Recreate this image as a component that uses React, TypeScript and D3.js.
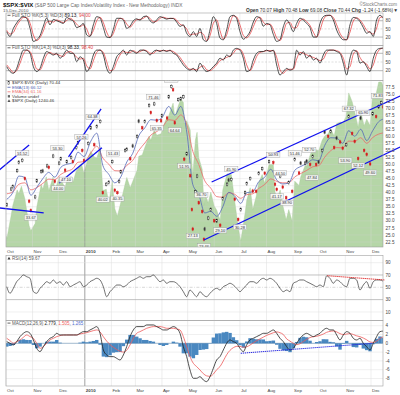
import React from "react";
import * as d3 from "d3";

// ---------------- DATA ----------------
const monthTickDates = ["2009-10-01","2009-11-01","2009-12-01","2010-01-01","2010-02-01","2010-03-01","2010-04-01","2010-05-01","2010-06-01","2010-07-01","2010-08-01","2010-09-01","2010-10-01","2010-11-01","2010-12-01"];
const monthTickLabels = ["Oct","Nov","Dec","2010","Feb","Mar","Apr","May","Jun","Jul","Aug","Sep","Oct","Nov","Dec"];

const weekDates = ["2009-10-02","2009-10-09","2009-10-16","2009-10-23","2009-10-30","2009-11-06","2009-11-13","2009-11-20","2009-11-27","2009-12-04","2009-12-11","2009-12-18","2009-12-24","2009-12-31",
"2010-01-08","2010-01-15","2010-01-22","2010-01-29","2010-02-05","2010-02-12","2010-02-19","2010-02-26","2010-03-05","2010-03-12","2010-03-19","2010-03-26","2010-04-01","2010-04-09","2010-04-16","2010-04-23","2010-04-30",
"2010-05-07","2010-05-14","2010-05-21","2010-05-28","2010-06-04","2010-06-11","2010-06-18","2010-06-25","2010-07-02","2010-07-09","2010-07-16","2010-07-23","2010-07-30",
"2010-08-06","2010-08-13","2010-08-20","2010-08-27","2010-09-03","2010-09-10","2010-09-17","2010-09-24","2010-10-01","2010-10-08","2010-10-15","2010-10-22","2010-10-29",
"2010-11-05","2010-11-12","2010-11-19","2010-11-26","2010-12-03","2010-12-10","2010-12-15"];
const ema13Values = [37.7,40.1,45.9,45.4,39.1,41.9,45.0,47.2,45.5,49.0,50.1,50.6,54.4,52.8,
58.3,61.1,49.7,46.5,43.5,45.6,50.9,54.0,60.2,63.0,65.9,65.7,66.6,70.6,67.5,70.6,61.5,
42.9,39.4,32.8,33.4,31.6,35.0,40.1,38.8,36.2,40.0,40.3,43.9,45.5,
48.3,44.5,43.1,43.4,47.9,49.3,50.3,51.7,51.3,56.8,59.5,59.4,57.5,
62.0,60.0,62.5,58.5,62.0,65.2,66.1];
const ema34Values = [39.6,40.3,43.0,43.5,41.0,41.8,43.3,44.8,44.6,46.5,47.6,48.5,50.8,51.0,
54.1,56.5,52.3,50.1,47.8,47.7,49.7,51.5,55.0,57.6,60.4,61.7,63.1,65.9,65.6,67.6,64.1,
54.7,50.0,44.2,41.6,38.6,38.4,40.0,39.4,38.0,39.3,39.6,41.5,42.9,
44.9,44.0,43.5,43.5,45.6,46.8,47.9,49.2,49.6,52.6,54.9,56.0,55.9,
58.3,58.2,59.5,57.5,59.6,60.8,61.2];

const ratioDates = ["2009-10-02","2009-10-07","2009-10-09","2009-10-14","2009-10-16","2009-10-20","2009-10-23","2009-10-28","2009-10-30",
"2009-11-04","2009-11-06","2009-11-11","2009-11-13","2009-11-18","2009-11-20","2009-11-25","2009-11-27",
"2009-12-02","2009-12-04","2009-12-09","2009-12-11","2009-12-16","2009-12-18","2009-12-22","2009-12-24","2009-12-29","2009-12-31",
"2010-01-05","2010-01-08","2010-01-12","2010-01-15","2010-01-19","2010-01-22","2010-01-26","2010-01-29",
"2010-02-02","2010-02-05","2010-02-08","2010-02-10","2010-02-12","2010-02-17","2010-02-19","2010-02-23","2010-02-26",
"2010-03-03","2010-03-05","2010-03-09","2010-03-12","2010-03-17","2010-03-19","2010-03-23","2010-03-26","2010-03-31",
"2010-04-01","2010-04-07","2010-04-09","2010-04-12","2010-04-14","2010-04-16","2010-04-20","2010-04-23","2010-04-26","2010-04-27","2010-04-30",
"2010-05-04","2010-05-06","2010-05-07","2010-05-10","2010-05-12","2010-05-14","2010-05-18","2010-05-20","2010-05-21","2010-05-25","2010-05-28",
"2010-06-01","2010-06-04","2010-06-08","2010-06-11","2010-06-16","2010-06-18","2010-06-21","2010-06-25","2010-06-29",
"2010-07-02","2010-07-07","2010-07-09","2010-07-13","2010-07-16","2010-07-20","2010-07-23","2010-07-27","2010-07-30",
"2010-08-04","2010-08-09","2010-08-11","2010-08-13","2010-08-17","2010-08-20","2010-08-24","2010-08-27","2010-08-31",
"2010-09-03","2010-09-08","2010-09-10","2010-09-15","2010-09-17","2010-09-21","2010-09-24","2010-09-28",
"2010-10-01","2010-10-05","2010-10-08","2010-10-12","2010-10-15","2010-10-19","2010-10-22","2010-10-26","2010-10-29",
"2010-11-02","2010-11-05","2010-11-09","2010-11-12","2010-11-16","2010-11-19","2010-11-23","2010-11-26","2010-11-30",
"2010-12-03","2010-12-07","2010-12-10","2010-12-13","2010-12-15"];
const ratioClose = [35.7,41.3,42.2,47.8,50.8,51.5,45.0,37.0,33.7,
38.5,44.2,47.5,47.7,49.5,49.0,53.0,44.0,
50.5,52.0,48.0,51.0,52.5,51.0,56.0,57.7,55.0,51.4,
57.5,63.0,57.0,63.5,65.3,40.0,43.0,43.7,
51.0,40.9,40.0,44.0,47.4,55.0,55.4,52.0,56.6,
60.0,65.4,63.0,65.3,71.0,68.4,71.5,65.6,65.5,
67.3,66.5,74.0,77.66,76.5,64.8,73.0,73.3,74.0,51.9,53.8,
46.0,34.0,27.1,40.3,45.9,36.4,33.3,23.46,27.1,31.0,34.0,
30.0,30.0,28.45,37.9,43.0,44.5,44.7,37.7,30.5,
34.0,40.0,43.2,45.0,40.6,40.5,46.9,48.5,46.9,
51.0,50.7,43.0,41.2,45.9,42.0,38.2,43.6,40.5,
51.8,47.0,50.5,50.5,51.2,50.0,52.9,50.0,
50.9,55.0,61.5,60.0,61.8,56.0,59.4,58.0,55.8,
57.0,67.1,61.0,58.2,52.1,66.5,55.0,53.6,50.2,
68.0,67.0,70.5,71.9,70.44];

const spxDates = ["2009-10-01","2009-10-02","2009-10-07","2009-10-09","2009-10-14","2009-10-16","2009-10-19","2009-10-23","2009-10-28","2009-10-30",
"2009-11-04","2009-11-06","2009-11-11","2009-11-13","2009-11-17","2009-11-20","2009-11-25","2009-11-27",
"2009-12-02","2009-12-04","2009-12-09","2009-12-11","2009-12-16","2009-12-18","2009-12-22","2009-12-28","2009-12-31",
"2010-01-05","2010-01-08","2010-01-12","2010-01-15","2010-01-19","2010-01-22","2010-01-26","2010-01-29",
"2010-02-02","2010-02-05","2010-02-08","2010-02-12","2010-02-17","2010-02-19","2010-02-23","2010-02-26",
"2010-03-03","2010-03-05","2010-03-09","2010-03-12","2010-03-17","2010-03-19","2010-03-23","2010-03-26","2010-03-31",
"2010-04-05","2010-04-09","2010-04-14","2010-04-16","2010-04-20","2010-04-23","2010-04-26","2010-04-27","2010-04-30",
"2010-05-04","2010-05-06","2010-05-07","2010-05-10","2010-05-12","2010-05-14","2010-05-18","2010-05-20","2010-05-21","2010-05-25","2010-05-28",
"2010-06-01","2010-06-04","2010-06-08","2010-06-11","2010-06-16","2010-06-21","2010-06-25","2010-06-29",
"2010-07-02","2010-07-07","2010-07-09","2010-07-13","2010-07-16","2010-07-20","2010-07-23","2010-07-27","2010-07-30",
"2010-08-04","2010-08-09","2010-08-11","2010-08-13","2010-08-17","2010-08-20","2010-08-24","2010-08-27","2010-08-31",
"2010-09-03","2010-09-08","2010-09-10","2010-09-15","2010-09-17","2010-09-21","2010-09-24","2010-09-28",
"2010-10-01","2010-10-05","2010-10-08","2010-10-12","2010-10-15","2010-10-19","2010-10-22","2010-10-26","2010-10-29",
"2010-11-02","2010-11-05","2010-11-09","2010-11-12","2010-11-16","2010-11-19","2010-11-23","2010-11-26","2010-11-30",
"2010-12-03","2010-12-07","2010-12-10","2010-12-13","2010-12-15"];
const spxClose = [1029,1025,1057,1071,1092,1087,1097,1080,1043,1036,
1046,1069,1099,1093,1110,1091,1110,1091,
1109,1106,1095,1106,1110,1102,1118,1128,1115,
1137,1145,1137,1136,1150,1091,1093,1074,
1104,1066,1056,1075,1100,1109,1095,1104,
1119,1138,1140,1150,1166,1160,1174,1167,1169,
1187,1194,1211,1192,1207,1217,1212,1183,1187,
1174,1128,1111,1160,1171,1136,1120,1071,1088,1074,1089,
1070,1064,1050,1092,1114,1113,1076,1041,
1022,1060,1078,1095,1065,1083,1102,1113,1101,
1127,1127,1089,1079,1092,1071,1051,1065,1049,
1104,1098,1110,1125,1125,1140,1148,1147,
1146,1160,1166,1169,1176,1166,1183,1185,1183,
1193,1225,1213,1199,1178,1199,1180,1189,1180,
1224,1224,1240,1240,1235];

// oscillators: evenly spaced samples, Oct 1 2009 -> Dec 15 2010
const sto5K = [40,22,52,72,88,95,89,52,4,10,25,60,90,65,85,80,75,70,92,85,78,55,60,70,28,22,65,95,90,55,20,18,48,89,89,83,52,60,80,87,82,95,97,80,72,83,95,91,86,89,88,75,59,65,34,22,40,22,52,
10,4,46,95,70,16,10,46,95,100,88,40,12,22,40,75,95,90,60,70,65,30,4,10,58,83,65,40,70,89,83,70,55,20,20,70,95,100,100,83,46,22,10,10,65,92,89,77,55,34,40,22,83,100,89];
const sto5D = [45,31,37,62,80,92,92,71,28,7,18,43,75,78,75,83,78,73,81,89,82,67,58,65,49,25,44,80,93,73,38,19,33,69,89,86,68,56,70,84,85,89,96,89,76,78,89,93,89,88,89,82,67,62,50,28,31,31,37,
31,7,25,71,83,43,13,28,71,98,94,64,26,17,31,58,85,93,75,65,68,48,17,7,34,71,74,53,55,80,86,77,63,38,20,45,83,98,100,92,65,34,16,10,38,79,91,83,66,45,37,31,53,92,94];
const sto14K = [34,17,11,28,63,91,91,80,34,17,28,63,86,80,74,80,63,74,91,80,80,51,68,57,17,34,74,91,91,74,28,11,34,68,80,91,74,91,86,80,91,91,86,74,86,91,86,91,86,91,80,74,57,40,28,22,28,17,46,
28,17,22,34,46,63,57,74,68,91,97,91,63,17,22,57,80,86,86,91,86,91,40,5,17,28,22,28,91,74,86,63,74,57,63,46,74,91,91,91,86,80,46,5,63,91,86,46,51,34,17,63,91,97,98];
const sto14D = [40,26,14,20,46,77,91,86,57,26,23,46,75,83,77,77,72,69,83,86,80,66,60,63,37,26,54,83,91,83,51,20,23,51,74,86,83,83,89,83,86,91,89,80,80,89,89,89,89,89,86,77,66,49,34,25,25,23,32,
37,23,20,28,40,55,60,66,71,80,94,94,77,40,20,40,69,83,86,89,89,89,66,23,11,23,25,25,60,83,80,75,69,66,60,55,60,83,91,91,89,83,63,26,34,77,89,66,49,43,26,40,77,94,98];
const rsi14 = [51.0,40.3,48.4,59.1,64.6,70.0,67.2,64.6,42.9,40.3,48.4,53.7,59.1,56.5,61.9,56.5,59.1,53.7,59.1,51.0,53.7,56.5,59.1,51.0,53.7,59.1,61.9,64.6,61.9,51.0,34.7,42.9,48.4,53.7,53.7,51.0,53.7,59.1,61.9,64.6,67.2,64.6,67.2,67.2,70.0,64.6,59.1,61.9,56.5,59.1,59.1,56.5,51.0,42.9,34.7,45.6,40.3,34.7,42.9,
37.5,34.7,40.3,45.6,48.4,45.6,51.0,53.7,56.5,53.7,48.4,42.9,48.4,53.7,59.1,59.1,56.5,61.9,64.6,61.9,64.6,61.9,56.5,48.4,42.9,45.6,42.9,56.5,59.1,61.9,61.9,59.1,56.5,53.7,51.0,53.7,51.0,68.5,64.6,56.5,61.9,59.1,53.7,51.0,64.6,64.6,61.9,45.6,53.7,59.1,48.4,59.1,61.9,61.9,59.7];
const macdLine = [0.38,0,-0.38,0.38,1.52,2.27,2.65,2.27,0.76,-1.14,-1.89,-0.76,0.38,1.14,1.52,2.27,1.89,1.89,1.89,1.89,1.89,1.89,2.27,2.65,2.65,3.03,3.41,3.79,2.27,-1.52,-2.65,-3.03,-3.03,-3.41,-3.79,-2.65,-0.76,1.52,3.03,3.79,3.79,3.79,4.17,4.17,4.17,3.79,3.41,3.03,3.03,3.41,3.79,3.41,2.27,-0.76,-3.03,-6.06,-7.95,-7.95,-7.58,
-8.33,-8.71,-7.58,-5.68,-3.79,-3.03,-1.52,0,0.76,0.38,0,-1.14,-1.89,-0.38,0.76,1.14,1.52,1.89,2.27,2.27,2.65,3.03,2.27,1.14,0.38,-0.76,-1.52,-1.14,0,1.14,1.89,2.27,1.89,1.52,1.89,2.27,3.03,3.41,3.03,3.03,1.89,0.76,1.89,2.65,2.27,1.14,0.76,1.14,0,-0.76,-1.52,0,1.52,2.65,2.779];
const macdSignal = [1.14,0.61,0,0.38,0.76,1.36,1.89,1.52,1.14,0,-1.14,-0.76,0,0.76,1.14,1.52,1.74,1.89,1.89,1.89,1.89,1.89,2.12,2.27,2.42,2.65,2.88,3.03,2.6,1.5,0.5,-0.3,-0.9,-1.4,-1.8,-2.0,-1.6,-0.38,1.14,2.27,2.65,3.03,3.41,3.64,3.79,3.79,3.79,3.64,3.41,3.41,3.41,3.26,3.03,1.52,-0.76,-3.03,-4.55,-5.30,-6.06,
-6.9,-7.4,-7.5,-7.0,-6.0,-5.3,-4.0,-2.6,-1.6,-1.0,-0.7,-0.7,-0.9,-0.8,-0.4,0.1,0.6,1.0,1.4,1.8,2.1,2.4,2.6,2.4,2.0,1.0,0.5,0,-0.3,-0.1,0.4,0.9,1.3,1.5,1.6,1.8,2.1,2.5,2.7,2.8,2.6,2.2,2.0,2.1,2.2,2.0,1.7,1.5,1.2,0.8,0.3,0.2,0.5,1.1,1.505];

// annotations on the main panel (date, value, 1 = above / -1 = below)
const annDates = ["2009-10-20","2009-10-30","2009-11-30","2009-12-01","2009-12-10","2009-12-28","2010-01-10","2010-01-22","2010-02-03","2010-02-08","2010-03-22","2010-03-26","2010-04-12","2010-04-16","2010-04-27","2010-05-07","2010-05-17","2010-05-20","2010-06-08","2010-06-21","2010-07-01","2010-08-09","2010-08-13","2010-08-17","2010-08-25","2010-09-03","2010-09-20","2010-09-23","2010-11-01","2010-11-05","2010-11-16","2010-11-22","2010-11-30","2010-12-09"];
const annValues = [51.52,33.67,53.30,44.00,47.10,57.26,64.38,40.02,51.43,40.35,71.46,65.35,77.66,64.64,51.95,27.13,36.70,23.46,29.10,45.90,30.28,50.93,41.17,44.50,38.90,51.46,52.70,47.84,53.90,67.32,52.12,65.90,49.60,71.83];
const annSide = [1,-1,1,-1,-1,1,1,-1,1,-1,1,-1,1,-1,-1,-1,1,-1,-1,1,-1,1,-1,1,-1,1,1,-1,-1,1,-1,1,-1,1];

// hand-drawn trendlines
const trendStartDates = ["2009-09-23","2009-09-23","2009-12-13","2009-12-02","2010-05-29","2010-05-20"];
const trendStartValues = [48.05,34.6,52.7,43.4,43.8,23.2];
const trendEndDates = ["2009-10-28","2009-11-14","2010-01-20","2010-01-21","2011-01-04","2011-01-04"];
const trendEndValues = [56.9,32.8,69.7,55.9,74.3,56.2];
const rsiTrendDates = ["2010-10-11","2010-12-17"];
const rsiTrendValues = [68.8,61.9];
const macdTrendDates = ["2010-07-02","2010-12-03"];
const macdTrendValues = [-2.27,0];

const mainTicks = [22.5,25,27.5,30,32.5,35,37.5,40,42.5,45,47.5,50,52.5,55,57.5,60,62.5,65,67.5,70,72.5,75,77.5];
const stoTicks = [80,50,20];
const rsiTicks = [90,70,50,30,10];
const macdTicks = [4,2,0,-2,-4,-6,-8];

// ---------------- CHART ----------------
const parse = d3.timeParse("%Y-%m-%d");
const FONT = "'Liberation Sans', Arial, Helvetica, sans-serif";
const W = 400, H = 395, X0 = 6, X1 = 383;

const P1 = { top: 13, bottom: 45.5 };
const P2 = { top: 45.5, bottom: 80.5 };
const PM = { top: 80.5, bottom: 247 };
const PR = { top: 255.5, bottom: 320.5 };
const PD = { top: 320.5, bottom: 386 };

export default function App() {
  const x = d3.scaleTime().domain([parse("2009-10-01")!, parse("2010-12-15")!]).range([X0, X1]);
  const xi = d3.scaleLinear().domain([0, sto5K.length - 1]).range([6.7, 383.3]);
  const y1 = d3.scaleLinear().domain([0, 100]).range([42.5, 15.3]);
  const y2 = d3.scaleLinear().domain([0, 100]).range([76.5, 47.5]);
  const ym = d3.scaleLinear().domain([22.5, 77.5]).range([242, 87]);
  const ys = d3.scaleLinear().domain([1013.7, 1240]).range([247, 82]);
  const yr = d3.scaleLinear().domain([0, 100]).range([318.1, 256.5]);
  const yd = d3.scaleLinear().domain([-8, 4]).range([378.5, 325.7]);

  const months = monthTickDates.map((d) => parse(d)!);

  const oscLine = (ys_: d3.ScaleLinear<number, number>) =>
    d3.line<number>().x((_, i) => xi(i)).y((d) => ys_(d)).curve(d3.curveMonotoneX);

  const spxPts = spxDates.map((d, i) => ({ d: parse(d)!, v: spxClose[i] }));
  const spxArea = d3.area<{ d: Date; v: number }>().x((p) => x(p.d)).y0(PM.bottom).y1((p) => ys(p.v));

  const emaLine = d3.line<number>().x((_, i) => x(parse(weekDates[i])!)).y((v) => ym(v)).curve(d3.curveMonotoneX);

  const hist = macdLine.map((m, i) => m - macdSignal[i]);
  const step = xi(1) - xi(0);

  const vGrid = (p: { top: number; bottom: number }, key: string) =>
    months.map((m, i) => (
      <line key={key + i} x1={x(m)} x2={x(m)} y1={p.top} y2={p.bottom}
        stroke={i === 3 ? "#8a8a8a" : "#dcdcdc"} strokeWidth={i === 3 ? 0.8 : 0.5} />
    ));

  const frame = (p: { top: number; bottom: number }, key: string) => (
    <rect key={key} x={X0} y={p.top} width={X1 - X0} height={p.bottom - p.top} fill="none" stroke="#a0a0a0" strokeWidth={0.6} />
  );

  const tickLabel = (y: number, t: string, key: string) => (
    <text key={key} x={385.5} y={y + 1.6} fontSize={4.6} fill="#444" fontFamily={FONT}>{t}</text>
  );

  const stoPanel = (p: { top: number; bottom: number }, ysc: d3.ScaleLinear<number, number>, k: number[], dd: number[], label: string, kv: string, dv: string, id: string) => (
    <g>
      <clipPath id={id}><rect x={X0} y={p.top} width={X1 - X0} height={p.bottom - p.top} /></clipPath>
      {vGrid(p, id + "v")}
      {stoTicks.map((t) => (
        <line key={id + "h" + t} x1={X0} x2={X1} y1={ysc(t)} y2={ysc(t)} stroke={t === 50 ? "#bdbdbd" : "#9a9a9a"}
          strokeWidth={t === 50 ? 0.5 : 0.7} strokeDasharray={t === 50 ? "2,1.5" : undefined} />
      ))}
      <g clipPath={`url(#${id})`}>
        <path d={oscLine(ysc)(dd) || ""} fill="none" stroke="#e8474a" strokeWidth={0.8} />
        <path d={oscLine(ysc)(k) || ""} fill="none" stroke="#222" strokeWidth={0.8} />
      </g>
      {frame(p, id + "f")}
      {stoTicks.map((t) => tickLabel(ysc(t), String(t), id + "t" + t))}
      <line x1={7.5} x2={10.5} y1={p.top + 2.3} y2={p.top + 2.3} stroke="#222" strokeWidth={0.7} />
      <text x={12} y={p.top + 3.9} fontSize={4.7} fill="#555" fontFamily={FONT}>
        {label} <tspan fill="#222">{kv}</tspan>, <tspan fill="#e8474a">{dv}</tspan>
      </text>
    </g>
  );

  // candles
  const candles = ratioDates.map((d, i) => {
    const v = ratioClose[i];
    const prev = i > 0 ? ratioClose[i - 1] : v;
    const up = v >= prev;
    const cx = x(parse(d)!);
    const cy = ym(v);
    return (
      <g key={"c" + i}>
        <line x1={cx} x2={cx} y1={cy - 2.2} y2={cy + 2.2} stroke={up ? "#111" : "#d42020"} strokeWidth={0.5} />
        <rect x={cx - 0.8} y={cy - 1.1} width={1.6} height={2.2} fill={up ? "#fff" : "#d42020"} stroke={up ? "#111" : "#d42020"} strokeWidth={0.45} />
      </g>
    );
  });

  const anns = annDates.map((d, i) => {
    const cx = x(parse(d)!);
    const cy = ym(annValues[i]) - annSide[i] * 7;
    const t = annValues[i].toFixed(2);
    return (
      <g key={"a" + i}>
        <rect x={cx - 6.6} y={cy - 2.6} width={13.2} height={5.2} fill="#f7f7f7" fillOpacity={0.9} stroke="#9c9c9c" strokeWidth={0.4} />
        <text x={cx} y={cy + 1.5} fontSize={4} textAnchor="middle" fill="#333" fontFamily={FONT}>{t}</text>
      </g>
    );
  });

  const trends = trendStartDates.map((d, i) => (
    <line key={"tr" + i} x1={x(parse(d)!)} y1={ym(trendStartValues[i])} x2={x(parse(trendEndDates[i])!)} y2={ym(trendEndValues[i])}
      stroke="#1010ee" strokeWidth={1.3} />
  ));

  const legendRows = [82.8, 87.3, 91.8, 96.3, 100.8];

  return (
    <svg width={W} height={H} viewBox={`0 0 ${W} ${H}`} style={{ position: "absolute", left: 0, top: 0, background: "#fff" }}>
      <rect x={0} y={0} width={W} height={H} fill="#fff" />
      {/* header */}
      <text x={3} y={7} fontFamily={FONT} fill="#111">
        <tspan fontSize={6} fontWeight="bold">$SPX:$VIX</tspan>
        <tspan fontSize={4.85} fill="#666"> (S&amp;P 500 Large Cap Index/Volatility Index - New Methodology) INDX</tspan>
      </text>
      <text x={3} y={12.3} fontSize={4.4} fill="#555" fontFamily={FONT}>15-Dec-2010</text>
      <text x={397} y={5.5} fontSize={4.5} fill="#777" textAnchor="end" fontFamily={FONT}>©StockCharts.com</text>
      <text x={398} y={12.3} fontSize={4.85} fill="#333" textAnchor="end" fontFamily={FONT}>
        <tspan fontWeight="bold">Open</tspan> 70.07 <tspan fontWeight="bold">High</tspan> 70.48 <tspan fontWeight="bold">Low</tspan> 69.08 <tspan fontWeight="bold">Close</tspan> 70.44 <tspan fontWeight="bold">Chg</tspan> -1.24 (-1.68%)▼
      </text>

      {stoPanel(P1, y1, sto5K, sto5D, "Full STO %K(5,3) %D(3)", "89.13", "94.00", "cp1")}
      {stoPanel(P2, y2, sto14K, sto14D, "Full STO %K(14,3) %D(3)", "98.33", "98.40", "cp2")}

      {/* main panel */}
      <clipPath id="cpm"><rect x={X0} y={PM.top} width={X1 - X0} height={PM.bottom - PM.top} /></clipPath>
      <clipPath id="cpt"><rect x={0} y={PM.top} width={W} height={PM.bottom - PM.top} /></clipPath>
      <g clipPath="url(#cpm)">
        <path d={spxArea(spxPts) || ""} fill="#b5d6a7" stroke="#a6cc97" strokeWidth={0.4} />
      </g>
      <g opacity={0.75}>{vGrid(PM, "mv")}</g>
      {mainTicks.map((t) => (
        <line key={"mh" + t} x1={X0} x2={X1} y1={ym(t)} y2={ym(t)} stroke="#cfcfcf" strokeOpacity={0.7} strokeWidth={0.4} />
      ))}
      <g clipPath="url(#cpm)">
        <path d={emaLine(ema34Values) || ""} fill="none" stroke="#ec6a6a" strokeWidth={0.8} />
        <path d={emaLine(ema13Values) || ""} fill="none" stroke="#5468b8" strokeWidth={0.8} />
        {candles}
      </g>
      <g clipPath="url(#cpt)">{trends}</g>
      <g clipPath="url(#cpm)">{anns}</g>
      {frame(PM, "mf")}
      {mainTicks.map((t) => tickLabel(ym(t), t.toFixed(1), "mt" + t))}
      {/* legend */}
      <g fontFamily={FONT} fontSize={4.4}>
        <rect x={8} y={legendRows[0] - 1.5} width={1.4} height={3} fill="#fff" stroke="#111" strokeWidth={0.4} />
        <text x={12} y={legendRows[0] + 1.5} fill="#333">$SPX:$VIX (Daily) 70.44</text>
        <line x1={7.5} x2={10.5} y1={legendRows[1]} y2={legendRows[1]} stroke="#5468b8" strokeWidth={0.8} />
        <text x={12} y={legendRows[1] + 1.5} fill="#5468b8">EMA(13) 66.12</text>
        <line x1={7.5} x2={10.5} y1={legendRows[2]} y2={legendRows[2]} stroke="#ec6a6a" strokeWidth={0.8} />
        <text x={12} y={legendRows[2] + 1.5} fill="#ec6a6a">EMA(34) 61.16</text>
        <rect x={7.8} y={legendRows[3] - 1.2} width={2.2} height={2.4} fill="#666" />
        <text x={12} y={legendRows[3] + 1.5} fill="#333">Volume undef</text>
        <path d={`M7.5,${legendRows[4] + 1.3} L9,${legendRows[4] - 1.5} L10.5,${legendRows[4] + 1.3} Z`} fill="#555" />
        <text x={12} y={legendRows[4] + 1.5} fill="#333">$SPX (Daily) 1240.46</text>
      </g>

      {/* month labels under main */}
      {months.map((m, i) => (
        <text key={"ml" + i} x={x(m) + 1} y={253} fontSize={4.4} fill="#444" fontWeight={i === 3 ? "bold" : "normal"} fontFamily={FONT}>{monthTickLabels[i]}</text>
      ))}

      {/* RSI */}
      <clipPath id="cpr"><rect x={X0} y={PR.top} width={X1 - X0} height={PR.bottom - PR.top} /></clipPath>
      {vGrid(PR, "rv")}
      {rsiTicks.map((t) => (
        <line key={"rh" + t} x1={X0} x2={X1} y1={yr(t)} y2={yr(t)}
          stroke={t === 70 || t === 30 ? "#a8a8a8" : t === 50 ? "#b0b0b0" : "#e0e0e0"}
          strokeWidth={t === 70 || t === 30 ? 0.7 : 0.5} strokeDasharray={t === 50 ? "3,1.5,0.8,1.5" : undefined} />
      ))}
      <g clipPath="url(#cpr)">
        <path d={oscLine(yr)(rsi14) || ""} fill="none" stroke="#333" strokeWidth={0.7} />
      </g>
      <line x1={x(parse(rsiTrendDates[0])!)} y1={yr(rsiTrendValues[0])} x2={x(parse(rsiTrendDates[1])!)} y2={yr(rsiTrendValues[1])}
        stroke="#e01818" strokeWidth={1} strokeDasharray="1.2,0.8" />
      {frame(PR, "rf")}
      {rsiTicks.map((t) => tickLabel(yr(t), String(t), "rt" + t))}
      <path d={`M7.5,${PR.top + 4} L9,${PR.top + 1.2} L10.5,${PR.top + 4} Z`} fill="#333" />
      <text x={12} y={PR.top + 4} fontSize={4.5} fill="#555" fontFamily={FONT}>RSI(14) 59.67</text>

      {/* MACD */}
      <clipPath id="cpd"><rect x={X0} y={PD.top} width={X1 - X0} height={PD.bottom - PD.top} /></clipPath>
      {vGrid(PD, "dv")}
      {macdTicks.map((t) => (
        <line key={"dh" + t} x1={X0} x2={X1} y1={yd(t)} y2={yd(t)} stroke="#e0e0e0" strokeWidth={0.5} />
      ))}
      <g clipPath="url(#cpd)">
        {hist.map((h, i) => (
          <rect key={"hb" + i} x={xi(i) - step / 2} y={Math.min(yd(h), yd(0))} width={step + 0.1}
            height={Math.abs(yd(h) - yd(0))} fill="#4a88c0" />
        ))}
        <line x1={X0} x2={X1} y1={yd(0)} y2={yd(0)} stroke="#2d6aa0" strokeWidth={0.4} />
        <path d={oscLine(yd)(macdSignal) || ""} fill="none" stroke="#ee5a5a" strokeWidth={0.8} />
        <path d={oscLine(yd)(macdLine) || ""} fill="none" stroke="#222" strokeWidth={0.8} />
        <line x1={x(parse(macdTrendDates[0])!)} y1={yd(macdTrendValues[0])} x2={x(parse(macdTrendDates[1])!)} y2={yd(macdTrendValues[1])}
          stroke="#1818e0" strokeWidth={1} strokeDasharray="1.2,0.8" />
      </g>
      {frame(PD, "df")}
      {macdTicks.map((t) => tickLabel(yd(t), String(t), "dt" + t))}
      <line x1={7.5} x2={10.5} y1={PD.top + 2.6} y2={PD.top + 2.6} stroke="#222" strokeWidth={0.7} />
      <text x={12} y={PD.top + 4} fontSize={4.5} fill="#555" fontFamily={FONT}>
        MACD(12,26,9) <tspan fill="#222">2.779</tspan>, <tspan fill="#ee5a5a">1.505</tspan>, <tspan fill="#4a6ad0">1.265</tspan>
      </text>

      {/* bottom month labels */}
      {months.map((m, i) => (
        <text key={"bl" + i} x={x(m) + 1} y={391.5} fontSize={4.4} fill="#444" fontWeight={i === 3 ? "bold" : "normal"} fontFamily={FONT}>{monthTickLabels[i]}</text>
      ))}
    </svg>
  );
}
